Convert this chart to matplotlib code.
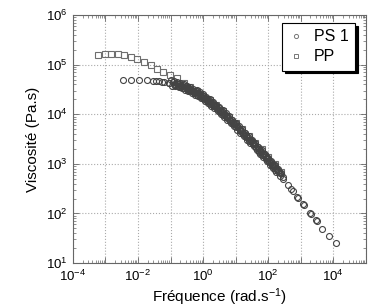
import matplotlib
matplotlib.use("Agg")
import matplotlib.pyplot as plt
from matplotlib.ticker import FixedLocator, LogLocator, NullFormatter

plt.rcParams['font.family'] = ['Liberation Sans', 'DejaVu Sans']
plt.rcParams['mathtext.fontset'] = 'custom'
plt.rcParams['mathtext.rm'] = 'Liberation Sans'
plt.rcParams['mathtext.it'] = 'Liberation Sans:italic'
plt.rcParams['mathtext.bf'] = 'Liberation Sans:bold'

# PS 1, sparse run (low frequencies and tail)
ps1_a_freq = [0.0034, 0.00603, 0.0110, 0.0195, 0.0295, 0.0457, 0.0646, 0.0912,
              0.135, 0.209, 0.331, 0.525, 0.832, 1.32, 2.09, 3.31, 5.25, 8.32,
              13.2, 20.9, 33.1, 52.5, 83.2, 132, 200, 295, 501, 759, 1175,
              1950, 3020, 4571, 7413, 11750]
ps1_a_visc = [49550, 50100, 50100, 48980, 47860, 46240, 45190, 43650,
              41210, 38020, 33880, 29510, 24550, 19950, 15850, 12300, 9333, 6918,
              5129, 3802, 2754, 1995, 1413, 1000, 724, 501, 309, 216, 155,
              102, 73.3, 49.0, 34.7, 25.7]

# PS 1, second run
ps1_b_freq = [0.0355, 0.0562, 0.0891, 0.141, 0.224, 0.355, 0.562, 0.891, 1.41,
              2.24, 3.55, 5.62, 8.91, 14.1, 22.4, 35.5, 56.2, 89.1, 141, 200,
              282, 417, 575, 851, 1230, 2042, 3162]
ps1_b_visc = [46770, 44670, 42660, 39810, 36310, 32360, 28180, 23440, 18620,
              14790, 11480, 8913, 6607, 4898, 3548, 2570, 1862, 1318, 933, 724,
              550, 372, 282, 204, 150, 97.7, 70.8]

# PS 1, dense runs in the middle range
ps1_c_freq = [0.1, 0.126, 0.158, 0.2, 0.251, 0.316, 0.398, 0.501, 0.631, 0.794,
              1, 1.26, 1.58, 2, 2.51, 3.16, 3.98, 5.01, 6.31, 7.94, 10, 12.6,
              15.8, 20, 25.1, 31.6, 39.8, 50.1, 63.1, 79.4, 100, 126, 158, 200, 251]
ps1_c_visc = [48420, 46770, 44670, 42660, 40740, 38020, 35480, 32730, 30200, 27540,
              25120, 22390, 19950, 17780, 15490, 13800, 12020, 10470, 9016, 7762,
              6683, 5754, 4955, 4217, 3589, 3055, 2600, 2188, 1862, 1567, 1318,
              1122, 944, 794, 661]

ps1_d_freq = [0.112, 0.141, 0.178, 0.224, 0.282, 0.355, 0.447, 0.562, 0.708, 0.891,
              1.12, 1.41, 1.78, 2.24, 2.82, 3.55, 4.47, 5.62, 7.08, 8.91, 11.2,
              14.1, 17.8, 22.4, 28.2, 35.5, 44.7, 56.2, 70.8, 89.1, 112, 141, 178, 224]
ps1_d_visc = [37840, 36310, 34670, 33110, 31260, 29170, 27100, 25000, 22910, 20890,
              18840, 16790, 14960, 13180, 11610, 10230, 8913, 7709, 6637, 5715,
              4920, 4236, 3631, 3090, 2630, 2239, 1892, 1603, 1355, 1140, 966,
              817, 687, 575]

ps1_e_freq = [0.339, 0.427, 0.537, 0.676, 0.851, 1.07, 1.35, 1.70, 2.14, 2.69,
              3.39, 4.27, 5.37, 6.76, 8.51, 10.7, 13.5, 17.0, 21.4, 26.9, 33.9,
              42.7, 53.7, 67.6, 85.1, 107, 135, 170, 214]
ps1_e_visc = [33110, 30900, 28510, 26180, 23880, 21630, 19280, 17180, 15210, 13340,
              11800, 10280, 8913, 7674, 6607, 5689, 4898, 4207, 3581, 3048, 2594,
              2198, 1858, 1578, 1324, 1122, 948, 798, 670]

ps1_f_freq = [0.119, 0.150, 0.188, 0.237, 0.299, 0.376, 0.473, 0.596, 0.750, 0.944,
              1.19, 1.50, 1.88, 2.37, 2.99, 3.76, 4.73, 5.96, 7.50, 9.44, 11.9,
              15.0, 18.8, 23.7, 29.9, 37.6, 47.3, 59.6, 75.0, 94.4, 119, 150, 188, 237]
ps1_f_visc = [44570, 42660, 40740, 38900, 36560, 34120, 31550, 29110, 26610, 24270,
              21780, 19410, 17300, 15140, 13430, 11750, 10230, 8831, 7603, 6546,
              5636, 4853, 4150, 3532, 3006, 2559, 2163, 1832, 1545, 1300, 1104,
              931, 783, 653]

ps1_g_freq = [0.168, 0.211, 0.266, 0.335, 0.422, 0.531, 0.668, 0.841, 1.06, 1.33,
              1.68, 2.11, 2.66, 3.35, 4.22, 5.31, 6.68, 8.41, 10.6, 13.3, 16.8,
              21.1, 26.6, 33.5, 42.2, 53.1, 66.8, 84.1, 106, 133, 168]
ps1_g_visc = [37150, 35480, 33730, 31480, 29240, 26980, 24830, 22650, 20560, 18320,
              16330, 14450, 12680, 11220, 9772, 8492, 7311, 6295, 5420, 4667,
              4009, 3412, 2904, 2472, 2094, 1770, 1500, 1262, 1067, 904, 760]

# PP
pp_freq = [0.000603, 0.000966, 0.00148, 0.00237, 0.0038, 0.0061, 0.00955, 0.0151,
           0.0245, 0.0376, 0.0603, 0.0966, 0.155, 0.251, 0.398, 0.631, 1.0, 1.58,
           2.51, 3.98, 6.31, 10, 15.8, 25.1, 39.8, 63.1, 100, 158, 251]
pp_visc = [158500, 166000, 166000, 166000, 154900, 141300, 128800, 114800,
           97720, 83180, 72440, 63100, 53700, 43650, 35480, 28840, 23440, 19050,
           15140, 11750, 8913, 6761, 5012, 3715, 2692, 1950, 1380, 977, 676]

x_decades = [1e-4, 1e-3, 1e-2, 1e-1, 1e0, 1e1, 1e2, 1e3, 1e4, 1e5]
x_labels = ['$10^{-4}$', '', '$10^{-2}$', '', '$10^{0}$', '', '$10^{2}$', '', '$10^{4}$', '']

fig = plt.figure(figsize=(3.68, 3.08), dpi=100)
ax = fig.add_axes([0.198, 0.146, 0.796, 0.805])

circ = dict(linestyle='none', marker='o', markersize=4.3, markerfacecolor='none',
            markeredgecolor='#444444', markeredgewidth=0.8)
sq = dict(linestyle='none', marker='s', markersize=4.3, markerfacecolor='none',
          markeredgecolor='#6e6e6e', markeredgewidth=0.8)

ax.plot(pp_freq, pp_visc, **sq)
for fr, vi in [(ps1_c_freq, ps1_c_visc), (ps1_d_freq, ps1_d_visc),
               (ps1_e_freq, ps1_e_visc), (ps1_f_freq, ps1_f_visc),
               (ps1_g_freq, ps1_g_visc), (ps1_b_freq, ps1_b_visc),
               (ps1_a_freq, ps1_a_visc)]:
    ax.plot(fr, vi, **circ)

ax.set_xscale('log')
ax.set_yscale('log')
ax.set_xlim(1e-4, 1e5)
ax.set_ylim(1e1, 1e6)

ax.xaxis.set_major_locator(FixedLocator(x_decades))
ax.set_xticklabels(x_labels)
ax.xaxis.set_minor_locator(LogLocator(base=10, subs=range(2, 10), numticks=20))
ax.xaxis.set_minor_formatter(NullFormatter())
ax.yaxis.set_minor_locator(LogLocator(base=10, subs=range(2, 10), numticks=20))
ax.yaxis.set_minor_formatter(NullFormatter())

ax.tick_params(which='both', direction='in', top=True, right=True,
               color='#666666', labelsize=9.5, pad=4)
ax.tick_params(which='major', length=4, width=0.6)
ax.tick_params(which='minor', length=2, width=0.5)
for s in ax.spines.values():
    s.set_color('#666666')
    s.set_linewidth(0.8)

ax.grid(True, which='major', linestyle=':', color='#aaaaaa', linewidth=0.8)

ax.set_xlabel('Fréquence (rad.s$^{-1}$)', fontsize=11, labelpad=2)
ax.set_ylabel('Viscosité (Pa.s)', fontsize=11, labelpad=4)

h1, = ax.plot([], [], linestyle='none', marker='o', markersize=3, markerfacecolor='none',
              markeredgecolor='#777777', markeredgewidth=0.7)
h2, = ax.plot([], [], linestyle='none', marker='s', markersize=3, markerfacecolor='none',
              markeredgecolor='#777777', markeredgewidth=0.7)
leg = ax.legend([h1, h2], ['PS 1', 'PP'], loc='upper right', bbox_to_anchor=(0.99, 1.0),
                fontsize=11.5, frameon=True, fancybox=False, framealpha=1,
                edgecolor='black', handlelength=1.0, handletextpad=0.6,
                borderpad=0.4, labelspacing=0.3,
                shadow={'facecolor': 'black', 'edgecolor': 'black', 'alpha': 1})
leg.get_frame().set_linewidth(0.8)

fig.savefig('out.png', dpi=100)
